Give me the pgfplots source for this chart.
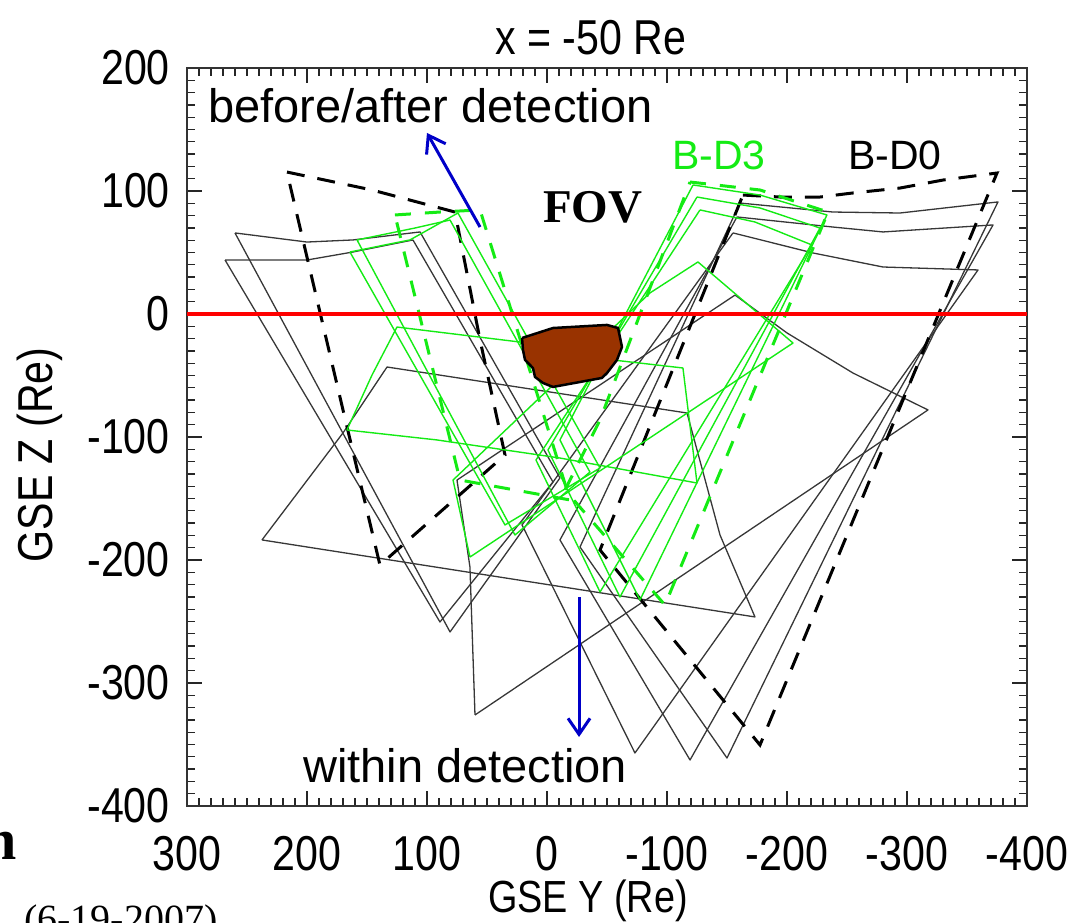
\documentclass[border=0pt]{standalone}
\usepackage{fontspec}
\setmainfont{Liberation Sans}
\newfontfamily\condfont{Liberation Sans}[FakeStretch=0.84]
\newfontfamily\timesfont{Liberation Serif}
\usepackage{pgfplots}
\pgfplotsset{compat=1.18}
\usetikzlibrary{arrows.meta}

\definecolor{fovgreen}{RGB}{20,235,20}
\definecolor{footblack}{RGB}{55,55,55}
\definecolor{arrowblue}{RGB}{0,0,200}
\definecolor{fovbrown}{RGB}{153,51,0}

\tikzset{
  blk/.style={color=footblack, line width=1.3pt, line join=round},
  blkdash/.style={color=black, line width=3pt, dash pattern=on 18pt off 13pt},
  grn/.style={color=fovgreen, line width=1.4pt, line join=round},
  grndash/.style={color=fovgreen, line width=3pt, dash pattern=on 16pt off 14pt},
}

\begin{document}
\begin{tikzpicture}
\useasboundingbox (0pt,0pt) rectangle (1068pt,923pt);
\begin{axis}[
  at={(187pt,117pt)}, anchor=south west,
  scale only axis, width=840pt, height=738pt,
  x dir=reverse,
  xmin=-400, xmax=300, ymin=-400, ymax=200,
  xtick={-400,-300,...,300}, ytick={-400,-300,...,200},
  minor x tick num=9, minor y tick num=9,
  tick align=inside,
  major tick length=15pt, minor tick length=8pt,
  tick style={black!85, line width=1.3pt},
  axis line style={black!80, line width=2pt},
  /pgf/number format/assume math mode=true,
  ticklabel style={font=\condfont\fontsize{49}{49}\selectfont, inner sep=0pt},
  xticklabel style={yshift=-30pt},
  yticklabel style={xshift=-17pt},
]

% B-D0 footprints (solid)
\addplot[blk] coordinates {(260,65.9) (200,58.5) (161.7,60.2) (105.8,66.7) (-10.8,-133.3) (80.8,-258.5) (260,65.9)};
\addplot[blk] coordinates {(268.3,43.9) (200,43.9) (161.7,50.4) (111.7,60.2) (-5,-136.6) (89.2,-250.4) (268.3,43.9)};
\addplot[blk] coordinates {(237.5,-183.7) (170,-96.7) (133.3,-43.1) (-116.7,-80.5) (-144.2,-179.7) (-173.3,-246.3) (237.5,-183.7)};
\addplot[blk] coordinates {(60,-326) (-317.5,-78) (-255,-48) (-200,-15.4) (-156.7,15.4) (75,-135) (64.2,-205.7) (60,-326)};
\addplot[blk] coordinates {(-160.8,90.2) (-238.3,82.9) (-294.2,82.1) (-375.8,91.1) (-150,-361) (-27.5,-189.4) (-160.8,90.2)};
\addplot[blk] coordinates {(-158.3,78.9) (-238.3,70.7) (-280,66.7) (-371.7,72.4) (-119.2,-362.6) (-10.8,-183.7) (-158.3,78.9)};
\addplot[blk] coordinates {(-155,65.9) (-221.7,49.6) (-280,38.2) (-359.2,35.8) (-73.3,-356.9) (20.8,-171.5) (-155,65.9)};

% B-D0 footprints before/after detection (dashed)
\addplot[blkdash] coordinates {(216.7,115.4) (145.8,100.8) (76.7,82.9) (55.8,-21.1) (35,-114.6) (139.2,-204.1) (170,-78) (216.7,115.4)};
\addplot[blkdash] coordinates {(-163.3,96.7) (-194.2,95.1) (-227.5,95.1) (-255,98.4) (-294.2,102.4) (-330,108.9) (-375,114.6) (-177.5,-350.4) (-44.2,-191.9) (-163.3,96.7)};

% B-D3 footprints (solid)
\addplot[grn] coordinates {(164.2,50.4) (114.2,60.2) (74.2,82.1) (-44.2,-125.2) (35,-171.5) (164.2,50.4)};
\addplot[grn] coordinates {(158.3,60.2) (110,69.9) (80.8,76.4) (-35.8,-128.5) (26.7,-179.7) (158.3,60.2)};
\addplot[grn] coordinates {(166.7,-94.3) (145.8,-49.6) (125,-10.6) (22.5,-22.8) (-55,-37.4) (-113.3,-43.9) (-125,-137.4) (-10.8,-117.1) (91.7,-102.4) (166.7,-94.3)};
\addplot[grn] coordinates {(64.2,-197.6) (-205,-23.6) (-125.8,42.3) (-85.8,17.1) (78.3,-135) (64.2,-197.6)};
\addplot[grn] coordinates {(-121.7,104.9) (-177.5,96.7) (-233.3,80.5) (-77.5,-232.5) (-10.8,-102.4) (-121.7,104.9)};
\addplot[grn] coordinates {(-125,95.1) (-177.5,86.2) (-227.5,69.9) (-60.8,-230.1) (-0.8,-110.6) (-125,95.1)};
\addplot[grn] coordinates {(-127.5,84.6) (-173.3,74.8) (-220.8,56.1) (-44.2,-226) (9.2,-118.7) (-127.5,84.6)};

% B-D3 footprints before/after detection (dashed)
\addplot[grndash] coordinates {(126.7,80.5) (89.2,82.9) (55.8,84.6) (-19.2,-151.2) (72.5,-135) (126.7,80.5)};
\addplot[grndash] coordinates {(-119.2,107.3) (-177.5,100.8) (-234.2,82.9) (-98.3,-236.6) (-15,-143.1) (-44.2,-86.2) (-119.2,107.3)};

% ecliptic plane
\addplot[red, line width=4pt] coordinates {(-400,0) (300,0)};

% detected structure
\addplot[fill=fovbrown, draw=black, line width=2.5pt, line join=round] coordinates {(20.8,-19.5) (-5,-11.4) (-50,-8.9) (-59.2,-11.4) (-62.5,-26.8) (-58.3,-37.4) (-50,-48) (-45.8,-52) (-5,-59.3) (3.3,-56.1) (10,-51.2) (11.7,-43.9) (18.3,-37.4) (20,-29.3) (20.8,-19.5)};

% annotation arrows
\addplot[arrowblue, line width=3pt, -{Straight Barb[length=16pt,width=22pt]}] coordinates {(55.8,70.7) (100,147.2)};
\addplot[arrowblue, line width=3pt, -{Straight Barb[length=16pt,width=22pt]}] coordinates {(-26.7,-230.1) (-26.7,-343.9)};
\end{axis}

% titles and labels
\node[inner sep=0pt, font=\condfont\fontsize{49}{49}\selectfont] at (591pt,885pt) {x = -50 Re};
\node[inner sep=0pt, font=\condfont\fontsize{45}{45}\selectfont] at (588pt,22pt) {GSE Y (Re)};
\node[inner sep=0pt, font=\condfont\fontsize{49}{49}\selectfont, rotate=90] at (40pt,468pt) {GSE Z (Re)};

% annotations inside the frame
\node[anchor=base west, inner sep=0pt, font=\fontsize{47}{47}\selectfont] at (208pt,800pt) {before/after detection};
\node[anchor=base west, inner sep=0pt, font=\fontsize{47}{47}\selectfont] at (303pt,140pt) {within detection};
\node[anchor=base west, inner sep=0pt, font=\timesfont\bfseries\fontsize{47}{47}\selectfont] at (543pt,700pt) {FOV};
\node[anchor=base west, inner sep=0pt, text=fovgreen, font=\fontsize{41}{41}\selectfont] at (672pt,753pt) {B-D3};
\node[anchor=base west, inner sep=0pt, font=\fontsize{41}{41}\selectfont] at (848pt,753pt) {B-D0};

% slide text around the figure
\node[anchor=base east, inner sep=0pt, font=\timesfont\bfseries\fontsize{58}{58}\selectfont] at (17pt,63pt) {n};
\node[anchor=base west, inner sep=0pt, font=\timesfont\fontsize{40}{40}\selectfont] at (24pt,-10pt) {(6-19-2007)};
\end{tikzpicture}
\end{document}
